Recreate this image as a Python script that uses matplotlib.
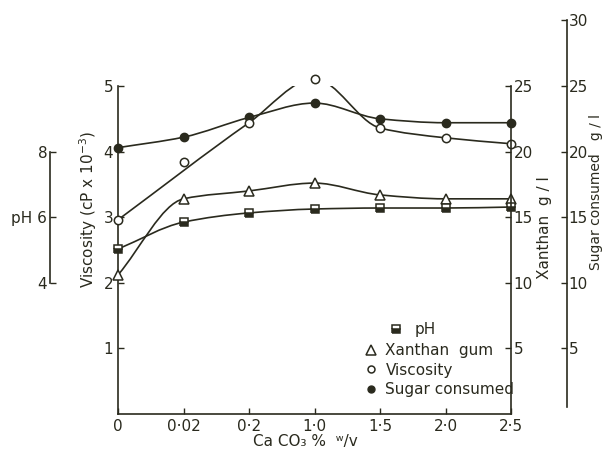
import matplotlib
matplotlib.use("Agg")
import matplotlib.pyplot as plt
import numpy as np
from matplotlib.path import Path
from matplotlib.patches import PathPatch
from matplotlib.lines import Line2D

categories = ["0", "0·02", "0·2", "1·0", "1·5", "2·0", "2·5"]
sugar = [20.3, 21.1, 22.6, 23.7, 22.5, 22.2, 22.2]      # g/l
viscosity = [2.96, 3.84, 4.44, 5.11, 4.36, 4.21, 4.12]  # cP x 10^-3
xanthan = [10.6, 16.4, 17.0, 17.6, 16.7, 16.4, 16.4]   # g/l
ph = [5.03, 5.85, 6.13, 6.25, 6.28, 6.28, 6.31]

ink = "#2a2a1e"
plt.rcParams["font.family"] = "DejaVu Sans"
plt.rcParams["text.color"] = ink
plt.rcParams["axes.labelcolor"] = ink
plt.rcParams["xtick.color"] = ink
plt.rcParams["ytick.color"] = ink

W, H = 605, 451
fig = plt.figure(figsize=(W / 100, H / 100), dpi=100)
ftr = fig.transFigure

x0, x1 = 118, 511
y0, y5 = 414, 86
ax = fig.add_axes([x0 / W, (H - y0) / H, (x1 - x0) / W, (y0 - y5) / H])
ax.set_xlim(0, 6)
ax.set_ylim(0, 5)
for s in ["top", "right"]:
    ax.spines[s].set_visible(False)
for s in ["left", "bottom"]:
    ax.spines[s].set_color(ink)
    ax.spines[s].set_linewidth(1.2)
ax.set_xticks(range(len(categories)))
ax.set_xticklabels(categories, fontsize=11)
ax.set_yticks([1, 2, 3, 4, 5])
ax.set_yticklabels(["1", "2", "3", "4", "5"], fontsize=11)
ax.tick_params(direction="in", length=4, width=1)
ax.set_ylabel(r"Viscosity (cP x 10$^{-3}$)", fontsize=11)
ax.yaxis.set_label_coords(99 / W, (H - 210) / H, transform=ftr)
ax.set_xlabel("Ca CO\u2083 %  \u02b7/v", fontsize=11, va="baseline")
ax.xaxis.set_label_coords(305 / W, (H - 446) / H, transform=ftr)

# Xanthan axis (right spine)
axx = ax.twinx()
axx.set_ylim(0, 25)
for s in ["top", "left", "bottom"]:
    axx.spines[s].set_visible(False)
axx.spines["right"].set_color(ink)
axx.spines["right"].set_linewidth(1.2)
axx.set_yticks([5, 10, 15, 20, 25])
axx.set_yticklabels(["5", "10", "15", "20", "25"], fontsize=11)
axx.tick_params(direction="in", length=4, width=1, pad=2)
axx.set_ylabel("Xanthan  g / l", fontsize=11)
axx.yaxis.set_label_coords(537 / W, (H - 228) / H, transform=ftr)

# Sugar axis
sx = 567
ys30 = y0 - (y0 - y5) / 25 * 30
axs = fig.add_axes([sx / W, (H - y0) / H, 0.0001, (y0 - ys30) / H])
axs.set_ylim(0, 30)
axs.set_xticks([])
for s in ["top", "left", "bottom"]:
    axs.spines[s].set_visible(False)
axs.spines["right"].set_color(ink)
axs.spines["right"].set_linewidth(1.2)
axs.spines["right"].set_bounds(0.5, 30)
axs.yaxis.tick_right()
axs.set_yticks([5, 10, 15, 20, 25, 30])
axs.set_yticklabels(["5", "10", "15", "20", "25", "30"], fontsize=11)
axs.tick_params(direction="in", length=4, width=1, pad=1)
axs.yaxis.set_label_position("right")
axs.set_ylabel("Sugar consumed   g / l", fontsize=10)
axs.yaxis.set_label_coords(589 / W, (H - 192) / H, transform=ftr)
axs.patch.set_visible(False)

# pH axis
px = 50
axp = fig.add_axes([px / W, (H - y0) / H, 0.0001, (y0 - y5) / H])
axp.set_ylim(0, 10)
axp.set_xticks([])
for s in ["top", "right", "bottom"]:
    axp.spines[s].set_visible(False)
axp.spines["left"].set_color(ink)
axp.spines["left"].set_linewidth(1.2)
axp.spines["left"].set_bounds(4, 8)
axp.set_yticks([4, 6, 8])
axp.set_yticklabels(["4", "pH 6", "8"], fontsize=11)
axp.tick_params(direction="in", length=4, width=1, pad=2)
axp.patch.set_visible(False)


def smooth_path(xs, ys):
    """Monotone (PCHIP-style) cubic Bezier path through the points."""
    xs = np.asarray(xs, float)
    ys = np.asarray(ys, float)
    n = len(xs)
    h = np.diff(xs)
    d = np.diff(ys) / h
    m = np.zeros(n)
    for i in range(1, n - 1):
        if d[i - 1] * d[i] > 0:
            w1 = 2 * h[i] + h[i - 1]
            w2 = h[i] + 2 * h[i - 1]
            m[i] = (w1 + w2) / (w1 / d[i - 1] + w2 / d[i])
    m[0] = d[0]
    m[-1] = d[-1]
    verts = [(xs[0], ys[0])]
    codes = [Path.MOVETO]
    for i in range(n - 1):
        hh = h[i] / 3.0
        verts += [(xs[i] + hh, ys[i] + m[i] * hh),
                  (xs[i + 1] - hh, ys[i + 1] - m[i + 1] * hh),
                  (xs[i + 1], ys[i + 1])]
        codes += [Path.CURVE4] * 3
    return Path(verts, codes)


xi = np.arange(len(categories))
sug_v = np.array(sugar) / 5.0
xan_v = np.array(xanthan) / 5.0
ph_v = np.array(ph) / 2.0
vis_v = np.array(viscosity)

lw = 1.2
for xs, ys in [(xi, sug_v), (xi, xan_v), (xi, ph_v)]:
    ax.add_patch(PathPatch(smooth_path(xs, ys), fill=False, edgecolor=ink, lw=lw, zorder=2))
# viscosity: the 0·02 point lies off the curve
vx = [xi[0]] + list(xi[2:])
vy = [vis_v[0]] + list(vis_v[2:])
ax.add_patch(PathPatch(smooth_path(vx, vy), fill=False, edgecolor=ink, lw=lw, zorder=2))

ms = 6
ax.plot(xi, sug_v, ls="none", marker="o", ms=ms, color=ink, mec=ink, zorder=3, clip_on=False)
ax.plot(xi, vis_v, ls="none", marker="o", ms=ms, mfc="white", mec=ink, mew=1.1, zorder=3, clip_on=False)
ax.plot(xi, xan_v, ls="none", marker="^", ms=ms + 1, mfc="white", mec=ink, mew=1.1, zorder=3, clip_on=False)
ax.plot(xi, ph_v, ls="none", marker="s", ms=ms - 0.5, fillstyle="bottom", mfc=ink, mfcalt="white",
        mec=ink, mew=1.1, zorder=3, clip_on=False)

h_ph = Line2D([], [], ls="none", marker="s", ms=ms - 0.5, fillstyle="bottom", mfc=ink, mfcalt="white",
              mec=ink, mew=1.1)
handles = [
    Line2D([], [], ls="none", marker="^", ms=ms + 1, mfc="white", mec=ink, mew=1.1),
    Line2D([], [], ls="none", marker="o", ms=ms - 1, mfc="white", mec=ink, mew=1.1),
    Line2D([], [], ls="none", marker="o", ms=ms - 1, color=ink),
]
labels = ["Xanthan  gum", "Viscosity", "Sugar consumed"]


def to_ax(px_, py_):
    return ((px_ - x0) / (x1 - x0), (y0 - py_) / (y0 - y5))


leg1 = ax.legend([h_ph], ["pH"], loc="upper left", bbox_to_anchor=to_ax(389, 322),
                 frameon=False, fontsize=11, handlelength=0.9, handletextpad=0.8,
                 borderpad=0, borderaxespad=0)
ax.add_artist(leg1)
ax.legend(handles, labels, loc="upper left", bbox_to_anchor=to_ax(364, 343),
          frameon=False, fontsize=11, handlelength=0.9, handletextpad=0.5, labelspacing=0.3,
          borderpad=0, borderaxespad=0)

fig.savefig("out.png", dpi=100, facecolor="white")
